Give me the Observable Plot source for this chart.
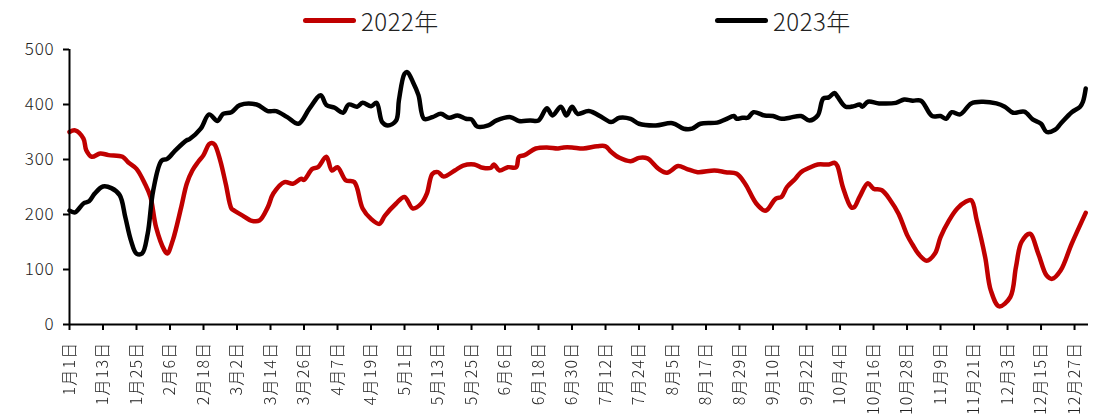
<!DOCTYPE html>
<html>
<head>
<meta charset="utf-8">
<script src="https://cdn.jsdelivr.net/npm/d3@7"></script>
<script src="https://cdn.jsdelivr.net/npm/@observablehq/plot@0.6"></script>
<style>
  html, body { margin: 0; padding: 0; background: #fff; }
  #wrap { position: relative; width: 1107px; font-family: "Noto Sans CJK SC", "Noto Sans", sans-serif; font-weight: 300; }
  #legend { position: relative; width: 1107px; height: 40px; }
  .item { position: absolute; top: 0; height: 40px; display: flex; align-items: center; }
  .sw { display: inline-block; width: 53px; height: 5px; border-radius: 3px; margin-right: 5px; }
  .lt { font-size: 24px; color: #222; letter-spacing: 0.5px; }
  svg { display: block; overflow: visible; }
</style>
</head>
<body>
<div id="wrap">
  <div id="legend"></div>
  <div id="chart"></div>
</div>
<script>
// ---- data (day of year, 0 = 1月1日) ----
const seriesNames = ["2022年", "2023年"];
const seriesColors = ["#C00000", "#000000"];

const days2022 = [0,2,5,6,8,11,14,19,21,24,27,29,31,34,35,37,40,42,44,46,48,50,51,52,54,56,58,59,62,65,68,71,73,77,80,83,84,87,89,92,94,96,99,102,105,108,111,113,117,120,123,126,128,130,132,134,138,141,145,148,151,152,154,157,160,161,163,167,171,175,177,180,184,189,192,194,197,201,204,207,211,214,218,221,225,231,235,239,242,246,249,250,253,255,257,260,262,265,268,272,274,275,277,280,281,283,286,288,291,294,297,300,302,304,307,310,312,315,318,321,323,325,328,330,333,337,339,341,344,347,350,352,355,359,364];
const vals2022 = [350,353,338,317,305,311,308,305,295,283,256,232,177,135,129,153,213,256,280,295,308,328,330,327,298,255,211,207,198,189,189,213,238,259,256,265,263,283,286,305,280,286,262,259,211,192,183,198,220,232,211,220,238,274,277,269,280,289,291,285,285,291,280,286,286,305,308,320,322,320,322,322,320,324,324,314,303,297,303,302,283,276,288,283,277,280,277,274,256,220,207,209,229,232,250,265,277,285,291,291,294,289,250,213,213,232,257,247,244,226,201,163,145,129,116,129,159,189,211,223,226,189,122,62,33,50,104,150,165,129,89,83,98,147,203];

const days2023 = [0,2,5,7,9,12,15,18,20,22,24,26,28,30,33,35,38,42,43,47,50,53,55,58,61,67,71,74,78,82,86,90,92,95,98,100,103,105,108,110,112,114,117,118,120,121,123,125,127,130,133,136,139,142,144,146,150,153,158,161,165,168,171,173,176,178,180,182,186,191,194,197,201,204,210,216,220,223,226,232,235,238,239,241,243,245,249,252,255,258,262,265,268,270,272,274,275,278,281,283,284,286,290,296,299,302,305,309,312,314,316,319,323,327,332,335,338,342,345,348,350,353,355,359,362,363,364];
const vals2023 = [207,204,220,224,238,251,248,235,195,153,129,129,165,244,298,301,317,335,337,356,382,370,383,386,399,400,388,388,377,365,393,417,399,394,385,400,396,403,397,403,368,362,371,408,456,459,441,417,374,377,383,376,380,374,373,360,362,371,377,370,371,371,393,380,396,380,396,383,388,376,368,376,374,365,362,366,356,356,365,367,373,379,374,376,376,386,380,379,374,376,379,371,380,411,413,421,415,396,397,400,396,405,402,403,409,407,407,379,379,374,386,382,402,405,402,396,385,387,373,365,350,354,365,386,396,405,429];

const tickDays = [0,12,24,36,48,60,72,84,96,108,120,132,144,156,168,180,192,204,216,228,240,252,264,276,288,300,312,324,336,348,360];
const tickLabels = ["1月1日","1月13日","1月25日","2月6日","2月18日","3月2日","3月14日","3月26日","4月7日","4月19日","5月1日","5月13日","5月25日","6月6日","6月18日","6月30日","7月12日","7月24日","8月5日","8月17日","8月29日","9月10日","9月22日","10月4日","10月16日","10月28日","11月9日","11月21日","12月3日","12月15日","12月27日"];
const yTicks = [0,100,200,300,400,500];

// ---- build table ----
const rows = [
  ...days2022.map((d, i) => ({day: d, value: vals2022[i], series: seriesNames[0]})),
  ...days2023.map((d, i) => ({day: d, value: vals2023[i], series: seriesNames[1]}))
];

// ---- legend ----
const legendPos = [303, 715];
const legend = document.getElementById("legend");
seriesNames.forEach((n, i) => {
  const it = document.createElement("div");
  it.className = "item";
  it.style.left = legendPos[i] + "px";
  it.innerHTML = `<span class="sw" style="background:${seriesColors[i]}"></span><span class="lt">${n}</span>`;
  legend.appendChild(it);
});

// ---- chart ----
const chart = Plot.plot({
  width: 1107,
  height: 380,
  marginLeft: 69,
  marginRight: 19,
  marginTop: 9,
  marginBottom: 96,
  style: {fontFamily: '"Noto Sans CJK SC", "Noto Sans", sans-serif', fontWeight: 300, color: "#222", background: "#fff", overflow: "visible"},
  x: {domain: [0, 365]},
  y: {domain: [0, 500]},
  color: {domain: seriesNames, range: seriesColors},
  marks: [
    Plot.axisY({ticks: yTicks, tickSize: 6, tickPadding: 9, fontSize: 17, label: null, tickFormat: d => d}),
    Plot.axisX({ticks: tickDays, tickSize: 6, tickPadding: 11, tickRotate: -90, fontSize: 16, label: null,
      tickFormat: d => tickLabels[tickDays.indexOf(d)]}),
    Plot.line(rows, {x: "day", y: "value", z: "series", stroke: "series", strokeWidth: 4.5, curve: "catmull-rom", strokeLinejoin: "round", strokeLinecap: "round"}),
    Plot.ruleX([0], {stroke: "#000", strokeWidth: 2}),
    Plot.ruleY([0], {stroke: "#000", strokeWidth: 2})
  ]
});
document.getElementById("chart").appendChild(chart);
chart.querySelectorAll("g[aria-label='y-axis tick'], g[aria-label='x-axis tick']").forEach(g => { g.setAttribute("stroke", "#000"); g.setAttribute("stroke-width", "2"); });
chart.querySelectorAll("g[aria-label='y-axis tick label'] text").forEach(t => t.setAttribute("letter-spacing", "0.8"));
// grayscale filter on the rotated labels to avoid colour fringes
const NS = "http://www.w3.org/2000/svg";
const defs = document.createElementNS(NS, "defs");
const filt = document.createElementNS(NS, "filter");
filt.setAttribute("id", "gray");
const cm = document.createElementNS(NS, "feColorMatrix");
cm.setAttribute("type", "saturate");
cm.setAttribute("values", "0");
filt.appendChild(cm);
defs.appendChild(filt);
chart.insertBefore(defs, chart.firstChild);
const xl = chart.querySelector("g[aria-label='x-axis tick label']");
if (xl) { xl.setAttribute("filter", "url(#gray)"); xl.setAttribute("fill", "#222"); }
chart.querySelectorAll("g[aria-label='x-axis tick label'] text").forEach(t => t.setAttribute("letter-spacing", "1.2"));
</script>
</body>
</html>
